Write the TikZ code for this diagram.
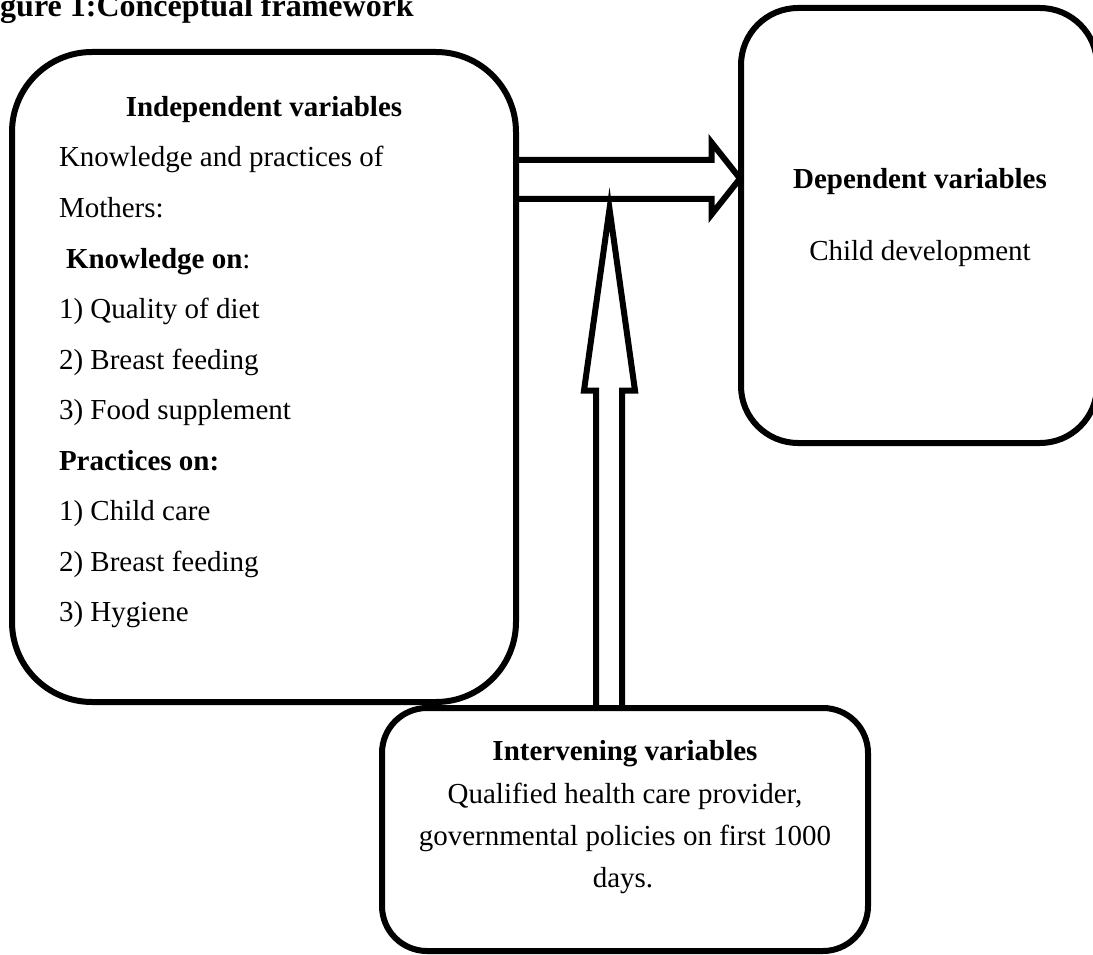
\documentclass[tikz,border=0pt]{standalone}
\usepackage{fontspec}
\setmainfont{Liberation Serif}
\usetikzlibrary{calc}
\begin{document}
\begin{tikzpicture}[x=1pt,y=-1pt,
  box/.style={draw, line width=6pt, rectangle, inner sep=0pt, outer sep=0pt},
  body/.style={inner sep=0pt, outer sep=0pt, font=\fontsize{29}{35}\selectfont},
  bodyb/.style={inner sep=0pt, outer sep=0pt, font=\fontsize{29}{35}\selectfont\bfseries},
  blockarrow/.style={draw, line width=6pt, line join=miter, miter limit=20}]
\useasboundingbox (0,0) rectangle (1093,955);

% title
\node[anchor=base west, inner sep=0pt, font=\fontsize{32}{38}\selectfont\bfseries] (title) at (-28.4,17) {Figure 1:Conceptual framework};

% boxes
\node[box, rounded corners=80pt, minimum width=504pt, minimum height=650pt] (ind) at (264,377) {};
\node[box, rounded corners=57pt, minimum width=356pt, minimum height=435pt] (dep) at (919,225.5) {};
\node[box, rounded corners=45pt, minimum width=486pt, minimum height=243pt] (int) at (625,829.5) {};

% block arrow: independent -> dependent
\draw[blockarrow] ($(ind.north east)+(0,108)$) -- ++(195.5,0) -- ++(0,-17.5)
  -- ($(dep.north west)+(-1,170.5)$) -- ++(-28.5,36) -- ++(0,-15.5)
  -- ($(ind.north east)+(0,147)$);

% block arrow: intervening -> relation
\draw[blockarrow] ($(int.north)+(-29,0)$) -- ++(0,-317.5) -- ++(-12,0)
  -- ($(int.north)+(-15.5,-499)$) -- ++(25.5,181.5) -- ++(-13,0)
  -- ($(int.north)+(-3,0)$);

% independent box text
\node[bodyb, anchor=base] (indh) at (264,117) {Independent variables};
\node[body, anchor=base west] (l1) at (59,167) {Knowledge and practices of};
\node[body, anchor=base west] (l2) at (59,217.5) {Mothers:};
\node[body, anchor=base west] (l3) at (66,268) {\textbf{Knowledge on}:};
\node[body, anchor=base west] (l4) at (59,318.5) {1) Quality of diet};
\node[body, anchor=base west] (l5) at (59,369) {2) Breast feeding};
\node[body, anchor=base west] (l6) at (59,419.5) {3) Food supplement};
\node[bodyb, anchor=base west] (l7) at (59,470) {Practices on:};
\node[body, anchor=base west] (l8) at (59,520.5) {1) Child care};
\node[body, anchor=base west] (l9) at (59,571) {2) Breast feeding};
\node[body, anchor=base west] (l10) at (59,621.5) {3) Hygiene};

% dependent box text
\node[bodyb, anchor=base] (deph) at (920,189) {Dependent variables};
\node[body, anchor=base] (dept) at (920,260) {Child development};

% intervening box text
\node[bodyb, anchor=base] (inth) at (625,760) {Intervening variables};
\node[body, anchor=base] (int1) at (625,803) {Qualified health care provider,};
\node[body, anchor=base] (int2) at (625,845) {governmental policies on first 1000};
\node[body, anchor=base] (int3) at (623,887) {days.};
\end{tikzpicture}
\end{document}
